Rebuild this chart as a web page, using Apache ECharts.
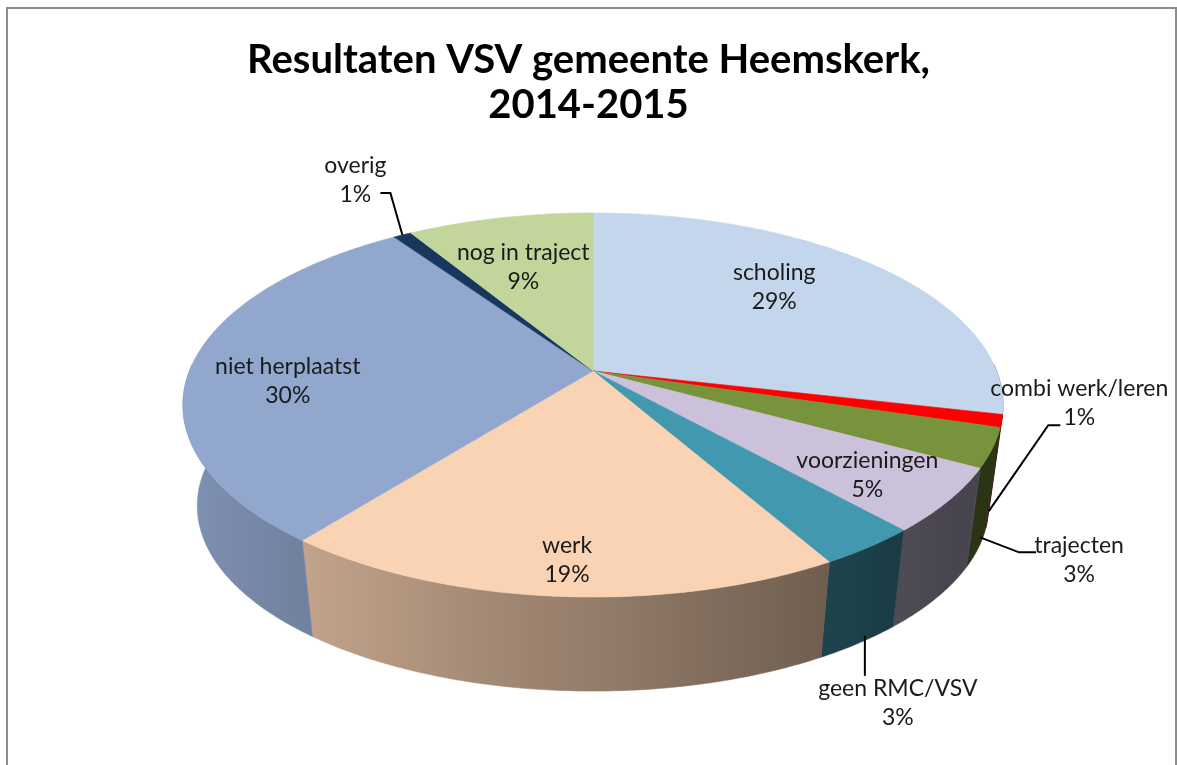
<!DOCTYPE html>
<html><head><meta charset="utf-8">
<script src="https://cdn.jsdelivr.net/npm/echarts@6/dist/echarts.min.js"></script>
<style>html,body{margin:0;padding:0;background:#fff}#c{width:1177px;height:765px}</style>
</head><body><div id="c"></div><script>
// ---- data ----
const categories = ['scholing','combi werk/leren','trajecten','voorzieningen','geen RMC/VSV','werk','niet herplaatst','overig','nog in traject'];
const shares = [28.6, 1.05, 3.3, 5.4, 3.4, 18.9, 29.8, 0.85, 8.7];
const titleText = 'Resultaten VSV gemeente Heemskerk,\n2014-2015';

// ---- styles / layout ----
const sliceColors = ['#C3D6EC','#FF0000','#77933C','#CCC1DA','#4298AF','#FAD3B4','#92A7CE','#17375E','#C2D59B'];
const G = {cx:593, cy:371, a:403.6, b:186, k:0.177, s:0.965, H:102};
const labelLayout = [
  {kind:'in', r:0.69, da:-6.5},
  {kind:'out', anchor:'wall', t:0.9, ada:0, leader:[[59.5,-86],[71.5,-86]], dx:90.5, dy:-108},
  {kind:'out', anchor:'wall', t:0.9, ada:0, leader:[[39,15],[56,15]], dx:99, dy:23},
  {kind:'in', r:0.8, da:1},
  {kind:'out', anchor:'wall', t:0.95, ada:-0.9, leader:[[0,40]], dx:33, dy:67},
  {kind:'in', r:0.863, da:-0.7},
  {kind:'in', r:0.751, da:-6.1},
  {kind:'out', anchor:'edge', ada:0, leader:[[-12,-42],[-22,-42]], dx:-47, dy:-55},
  {kind:'in', r:0.65, da:-1.5}
];
const LABEL_FONT = {fontFamily:'Lato', fontSize:23, lineHeight:29, fill:'#1a1a1a'};

const total = shares.reduce((p,c)=>p+c,0);
const starts = []; let acc = 0;
shares.forEach(v=>{ starts.push(acc/total*2*Math.PI); acc += v; });

function topPt(phi, r){ if(r==null) r=1; const X=r*Math.sin(phi), Y=-r*Math.cos(phi); const w=1-G.k*Y; return [G.cx+G.a*X/w, G.cy+G.b*Y/w]; }
function botPt(phi){ const p=topPt(phi,1); return [G.cx+(p[0]-G.cx)*G.s, G.cy+(p[1]-G.cy)*G.s+G.H]; }
function arc(a0,a1,fn,step){ step=step||Math.PI/360; const n=Math.max(2,Math.ceil(Math.abs(a1-a0)/step)); const pts=[]; for(let i=0;i<=n;i++) pts.push(fn(a0+(a1-a0)*i/n)); return pts; }
function hexToRgb(h){ h=h.replace('#',''); return [0,2,4].map(i=>parseInt(h.substr(i,2),16)); }
function shade(hex, phi){ const f=Math.max(0.36, 0.59-0.3*Math.sin(phi)); return 'rgb('+hexToRgb(hex).map(v=>Math.min(255,Math.round(v*f))).join(',')+')'; }
const DEG = Math.PI/180;

function renderItem(params, api){
  const i = params.dataIndex;
  const v = api.value(0);
  const a0 = starts[i], a1 = a0 + v/total*2*Math.PI;
  const col = sliceColors[i];
  const children = [];
  // side wall (front facing part)
  const w0 = Math.max(a0, 88*DEG), w1 = Math.min(a1, 272*DEG);
  if (w1 > w0) {
    const pts = arc(w0,w1,topPt).concat(arc(w1,w0,botPt));
    const samp = arc(w0,w1,p=>p,2*DEG);
    const xs = samp.map(p=>topPt(p)[0]);
    const xmin = Math.min(...xs), xmax = Math.max(...xs);
    let fill;
    if (xmax - xmin < 2) fill = shade(col,(w0+w1)/2);
    else {
      const stops = samp.map((p,j)=>({offset:(xs[j]-xmin)/(xmax-xmin), color:shade(col,p)})).sort((p,q)=>p.offset-q.offset);
      fill = {type:'linear', x:xmin, y:0, x2:xmax, y2:0, global:true, colorStops:stops};
    }
    children.push({type:'polygon', z2:1, shape:{points:pts}, style:{fill:fill, stroke:fill, lineWidth:0.6}});
  }
  // top face
  const topPts = [[G.cx,G.cy]].concat(arc(a0,a1,topPt));
  children.push({type:'polygon', z2:10, shape:{points:topPts}, style:{fill:col, stroke:col, lineWidth:0.6}});
  // label
  const L = labelLayout[i];
  const pct = Math.round(v/total*100) + '%';
  const txt = categories[i] + '\n' + pct;
  const mid = (a0+a1)/2;
  let lx, ly;
  if (L.kind === 'in') {
    const p = topPt(mid + L.da*DEG, L.r); lx = p[0]; ly = p[1];
  } else {
    const am = mid + L.ada*DEG;
    let A;
    if (L.anchor === 'wall') { const t=topPt(am), b=botPt(am); A=[t[0]+(b[0]-t[0])*L.t, t[1]+(b[1]-t[1])*L.t]; }
    else A = topPt(am);
    const lp = [A].concat(L.leader.map(d=>[A[0]+d[0],A[1]+d[1]]));
    children.push({type:'polyline', z2:25, shape:{points:lp}, style:{stroke:'#000', lineWidth:2, fill:null}});
    lx = A[0]+L.dx; ly = A[1]+L.dy;
  }
  children.push({type:'text', z2:30, x:lx, y:ly, style:Object.assign({text:txt, align:'center', verticalAlign:'middle'}, LABEL_FONT)});
  return {type:'group', children:children};
}

const chart = echarts.init(document.getElementById('c'), null, {renderer:'canvas'});
chart.setOption({
  backgroundColor:'#ffffff',
  animation:false,
  title:{text:titleText, left:'center', top:33, textStyle:{fontFamily:'Lato', fontWeight:'bold', fontSize:40, lineHeight:45, color:'#000'}},
  graphic:[{type:'rect', shape:{x:7, y:8, width:1169, height:800}, style:{fill:null, stroke:'#8c8c8c', lineWidth:2}, silent:true, z:-1}],
  series:[{type:'custom', coordinateSystem:'none', silent:true, renderItem:renderItem,
    data: shares.map((v,i)=>({name:categories[i], value:[v]}))}]
});
</script></body></html>
